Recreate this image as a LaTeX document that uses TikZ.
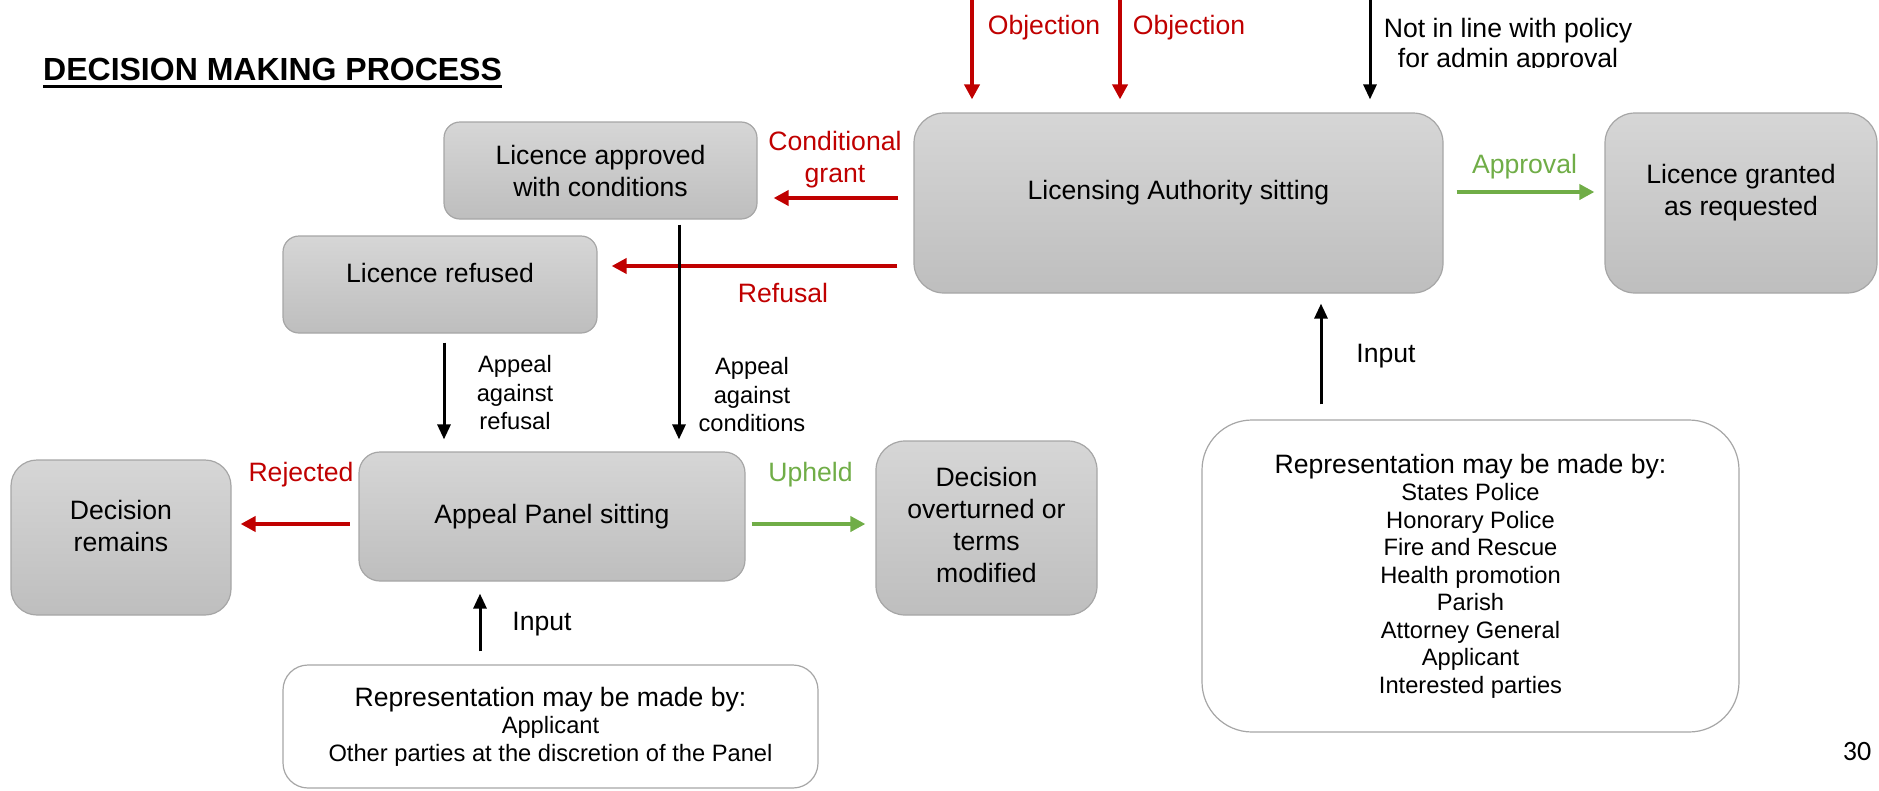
\documentclass[tikz,border=0pt]{standalone}
\usepackage{fontspec}
\setmainfont{Liberation Sans}
\newfontfamily\pagefont{Carlito}
\usetikzlibrary{arrows.meta}

\definecolor{lared}{HTML}{C00000}
\definecolor{lagreen}{HTML}{70AD47}
\definecolor{boxtop}{HTML}{D6D6D6}
\definecolor{boxbot}{HTML}{BEBEBE}
\definecolor{boxline}{HTML}{A6A6A6}

\newcommand{\txtbox}{\fontsize{26.6pt}{32pt}\selectfont}
\newcommand{\txtlist}{\fontsize{23.7pt}{27.5pt}\selectfont}
\newcommand{\txtappeal}{\fontsize{23.7pt}{28.5pt}\selectfont}
\newcommand{\txttitle}{\fontsize{32pt}{38pt}\selectfont\bfseries}
\newcommand{\txtpage}{\pagefont\fontsize{28pt}{32pt}\selectfont}

\tikzset{
  gbox/.style={draw=boxline, line width=1.2pt, top color=boxtop, bottom color=boxbot,
    align=center, inner sep=0pt, font=\txtbox},
  wbox/.style={draw=boxline, line width=1.2pt, fill=white, align=center, inner sep=0pt, font=\txtlist},
  lbl/.style={align=center, inner sep=0pt, font=\txtbox},
  lblsmall/.style={align=center, inner sep=0pt, font=\txtappeal},
  redarr/.style={draw=lared, line width=4.5pt, -{Triangle[length=15pt,width=15pt]}},
  greenarr/.style={draw=lagreen, line width=4.5pt, -{Triangle[length=15pt,width=15pt]}},
  blackarr/.style={draw=black, line width=3pt, -{Triangle[length=15pt,width=13pt]}}
}

\begin{document}
\begin{tikzpicture}[x=1pt,y=1pt,yscale=-1]
\useasboundingbox (0,0) rectangle (1879,790);

% Title
\node[anchor=base west, inner sep=0pt, font=\txttitle] (title) at (43,80) {DECISION MAKING PROCESS};
\coordinate (ulrow) at (0,86);
\draw[line width=3pt] (title.west |- ulrow) -- (title.east |- ulrow);

%Shape: Rounded Rectangles
\node[gbox, minimum width=313pt, minimum height=97pt, rounded corners=16pt] (lap) at (600.5,170.5) {Licence approved\\with conditions};
\node[gbox, minimum width=314pt, minimum height=97pt, rounded corners=16pt] (lr) at (440,284.5) {};
\node[gbox, minimum width=529pt, minimum height=180pt, rounded corners=30pt] (la) at (1178.5,203) {};
\node[gbox, minimum width=272pt, minimum height=180pt, rounded corners=30pt] (lg) at (1741,203) {};
\node[gbox, minimum width=386pt, minimum height=129pt, rounded corners=21pt] (ap) at (552,516.5) {Appeal Panel sitting};
\node[gbox, minimum width=220pt, minimum height=155pt, rounded corners=26pt] (dr) at (121,537.5) {};
\node[gbox, minimum width=221pt, minimum height=174pt, rounded corners=29pt] (dov) at (986.5,528) {};
\node[wbox, minimum width=537pt, minimum height=312pt, rounded corners=50pt] (rr) at (1470.5,576)
  {{\txtbox Representation may be made by:}\\States Police\\Honorary Police\\Fire and Rescue\\Health promotion\\Parish\\Attorney General\\Applicant\\Interested parties};
\node[wbox, minimum width=535pt, minimum height=123pt, rounded corners=25pt] (rl) at (550.5,726.5)
  {{\txtbox Representation may be made by:}\\Applicant\\Other parties at the discretion of the Panel};

% Text Node
\node[lbl] (lrtxt) at (440,273) {Licence refused};
\node[lbl] (latxt) at (1178.5,193) {Licensing Authority sitting};
\node[lbl] (lgtxt) at (1741,192.5) {Licence granted\\as requested};
\node[lbl] (drtxt) at (121,526) {Decision\\remains};
\node[lbl] (dovtxt) at (986.5,524.5) {Decision\\overturned or\\terms\\modified};

%Straight Lines
\coordinate (rowcg) at (0,198);
\coordinate (rowref) at (0,266);
\coordinate (rowapp) at (0,192);
\coordinate (rowap) at (0,524);
\draw[redarr, shorten <=15pt, shorten >=16pt] (la.west |- rowcg) -- (lap.east |- rowcg);
\draw[redarr, shorten <=16pt, shorten >=14pt] (la.west |- rowref) -- (lr.east |- rowref);
\draw[greenarr, shorten <=13pt, shorten >=10pt] (la.east |- rowapp) -- (lg.west |- rowapp);
\draw[redarr, shorten <=8.5pt, shorten >=9pt] (ap.west |- rowap) -- (dr.east |- rowap);
\draw[greenarr, shorten <=6pt, shorten >=10pt] (ap.east |- rowap) -- (dov.west |- rowap);

\coordinate (colcond) at (679,0);
\coordinate (colref) at (444,0);
\coordinate (colinla) at (1321,0);
\coordinate (colinap) at (480,0);
\draw[blackarr, shorten <=5pt, shorten >=12pt] (lap.south -| colcond) -- (ap.north -| colcond);
\draw[blackarr, shorten <=9pt, shorten >=12pt] (lr.south -| colref) -- (ap.north -| colref);
\draw[blackarr, shorten <=15pt, shorten >=10pt] (rr.north -| colinla) -- (la.south -| colinla);
\draw[blackarr, shorten <=13pt, shorten >=12pt] (rl.north -| colinap) -- (ap.south -| colinap);

\coordinate (obja) at (972,0);
\coordinate (objb) at (1120,0);
\coordinate (pol) at (1370,0);
\draw[redarr, shorten >=13pt] (obja) -- (obja |- la.north);
\draw[redarr, shorten >=13pt] (objb) -- (objb |- la.north);
\draw[blackarr, shorten >=13pt] (pol) -- (pol |- la.north);

% Labels
\node[lbl, text=lared] (lbobja) at (1044,28) {Objection};
\node[lbl, text=lared] (lbobjb) at (1189,28) {Objection};
\begin{scope}
\clip (1380,0) rectangle (1650,67);
\node[lbl, font=\fontsize{26.6pt}{30.5pt}\selectfont] (lbpol) at (1508,45.5) {Not in line with policy\\for admin approval};
\end{scope}
\node[lbl, text=lared] (lbcg) at (835,159.5) {Conditional\\grant};
\node[lbl, text=lared] (lbref) at (783,293) {Refusal};
\node[lbl, text=lagreen] (lbapp) at (1524.5,167) {Approval};
\node[lbl, text=lared] (lbrej) at (301,475) {Rejected};
\node[lbl, text=lagreen] (lbuph) at (810.5,475) {Upheld};
\node[lblsmall] (lbaref) at (515,393) {Appeal\\against\\refusal};
\node[lblsmall] (lbacond) at (752,395) {Appeal\\against\\conditions};
\node[lbl] (lbinla) at (1386,356) {Input};
\node[lbl] (lbinap) at (542,624) {Input};

% Page number
\node[font=\txtpage, inner sep=0pt] (pg) at (1857,751) {30};

\end{tikzpicture}
\end{document}
